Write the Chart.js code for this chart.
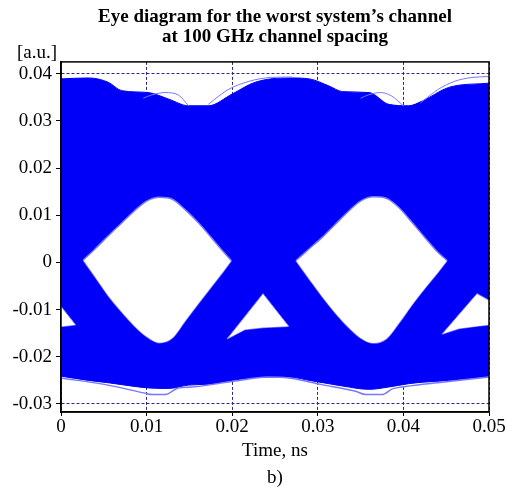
<!DOCTYPE html>
<html>
<head>
<meta charset="utf-8">
<script src="https://cdn.jsdelivr.net/npm/chart.js@4.4.0/dist/chart.umd.min.js"></script>
<style>
  html, body { margin: 0; padding: 0; background: #fff; }
  canvas { display: block; }
</style>
</head>
<body>
<canvas id="eyeChart" width="513" height="490"></canvas>
<script>
// axis ticks
const xTickValues = [0, 0.01, 0.02, 0.03, 0.04, 0.05];
const xTickLabels = ['0', '0.01', '0.02', '0.03', '0.04', '0.05'];
const yTickValues = [-0.03, -0.02, -0.01, 0, 0.01, 0.02, 0.03, 0.04];
const yTickLabels = ['-0.03', '-0.02', '-0.01', '0', '0.01', '0.02', '0.03', '0.04'];

// outer envelope of all traces
const envTime = [0, 0.0032, 0.0055, 0.0071, 0.0102, 0.0126, 0.0149, 0.0172, 0.0200, 0.0227,
                 0.0266, 0.0290, 0.0313, 0.0329, 0.0360, 0.0383, 0.0406, 0.0422, 0.0453, 0.0500];
const envTop = [0.0389, 0.0391, 0.0382, 0.0364, 0.0360, 0.0346, 0.0332, 0.0332, 0.0357, 0.0382,
                0.0391, 0.0389, 0.0374, 0.0362, 0.0360, 0.0335, 0.0332, 0.0342, 0.0371, 0.0380];
const envBottom = [-0.0241, -0.0250, -0.0255, -0.0259, -0.0266, -0.0267, -0.0260, -0.0258, -0.0250, -0.0244,
                   -0.0243, -0.0250, -0.0257, -0.0262, -0.0269, -0.0264, -0.0257, -0.0254, -0.0250, -0.0241];

// stray traces outside the dense band
const lowTraceX = [0, 0.0052, 0.0098, 0.0106, 0.0122, 0.0137, 0.0153, 0.0201, 0.0242,
                   0.0266, 0.0305, 0.0344, 0.0356, 0.0375, 0.0387, 0.0402, 0.0445, 0.0500];
const lowTraceY = [-0.0245, -0.0259, -0.0277, -0.0280, -0.0280, -0.0266, -0.0264, -0.0252, -0.0243,
                   -0.0245, -0.0259, -0.0273, -0.0280, -0.0280, -0.0268, -0.0263, -0.0254, -0.0243];
const arc1X = [0.0096, 0.0106, 0.01215, 0.0137, 0.0149];
const arc1Y = [0.0348, 0.0355, 0.0360, 0.0355, 0.0332];
const arc2X = [0.0350, 0.0359, 0.0373, 0.0386, 0.0400];
const arc2Y = [0.0348, 0.0355, 0.0360, 0.0353, 0.0332];
const fan1X = [0.0172, 0.0195, 0.0220, 0.0245, 0.0270];
const fan1Y = [0.0335, 0.0366, 0.0384, 0.0392, 0.0393];
const fan2X = [0.0420, 0.0440, 0.0460, 0.0480, 0.0500];
const fan2Y = [0.0338, 0.0366, 0.0384, 0.0392, 0.0394];

// eye openings
const eye1X = [0.0026, 0.0040, 0.0055, 0.0070, 0.0085, 0.0100, 0.0115, 0.0130, 0.0145, 0.0160, 0.0175, 0.0190, 0.0199];
const eye1Top = [0.0005, 0.0029, 0.0056, 0.0082, 0.0108, 0.0130, 0.0138, 0.0134, 0.0112, 0.0085, 0.0054, 0.0022, 0.0004];
const eye1Bottom = [0.0005, -0.0031, -0.0070, -0.0103, -0.0133, -0.0157, -0.0170, -0.0160, -0.0124, -0.0088, -0.0053, -0.0018, 0.0004];
const eye2X = [0.02745, 0.0290, 0.0305, 0.0320, 0.0335, 0.0350, 0.0365, 0.0380, 0.0395, 0.0410, 0.0425, 0.0440, 0.0451];
const eye2Top = [0.0004, 0.0029, 0.0053, 0.0080, 0.0107, 0.0130, 0.0139, 0.0136, 0.0116, 0.0085, 0.0053, 0.0022, 0.0004];
const eye2Bottom = [0.0004, -0.0035, -0.0072, -0.0106, -0.0136, -0.0160, -0.0171, -0.0162, -0.0128, -0.0090, -0.0055, -0.0022, 0.0004];

// small gaps under the crossings
const triLeftX = [0, 0.0017];
const triLeftTop = [-0.0093, -0.0132];
const triLeftBottom = [-0.0136, -0.0132];
const triMidX = [0.0194, 0.0215, 0.0236, 0.0266];
const triMidTop = [-0.0162, -0.0114, -0.0066, -0.0135];
const triMidBottom = [-0.0162, -0.0142, -0.0138, -0.0135];
const triRightX = [0.0445, 0.0465, 0.0486, 0.0500];
const triRightTop = [-0.0152, -0.0110, -0.0066, -0.0080];
const triRightBottom = [-0.0152, -0.0140, -0.0135, -0.0132];

const BLUE = 'rgb(0,0,250)';
const EDGE = 'rgb(120,120,255)';
const GRID = 'rgb(40,40,140)';
const SERIF = "'Liberation Serif', 'Times New Roman', serif";

function pts(xs, ys) {
    return xs.map((x, i) => ({ x: x, y: ys[i] }));
}

function line(xs, ys, color, order, extra) {
    return Object.assign({
        data: pts(xs, ys),
        borderColor: color,
        borderWidth: 1,
        pointRadius: 0,
        fill: false,
        cubicInterpolationMode: 'monotone',
        order: order
    }, extra || {});
}

const datasets = [
    line(envTime, envTop, BLUE, 10, { fill: '+1', backgroundColor: BLUE }),
    line(envTime, envBottom, BLUE, 10),
    line(lowTraceX, lowTraceY, EDGE, 9, { borderWidth: 1.5 }),
    line(arc1X, arc1Y, EDGE, 8),
    line(arc2X, arc2Y, EDGE, 8),
    line(fan1X, fan1Y, EDGE, 8),
    line(fan2X, fan2Y, EDGE, 8),
    line(eye1X, eye1Top, EDGE, 2, { fill: '+1', backgroundColor: '#fff', borderWidth: 1.5 }),
    line(eye1X, eye1Bottom, EDGE, 2, { borderWidth: 1.5 }),
    line(eye2X, eye2Top, EDGE, 2, { fill: '+1', backgroundColor: '#fff', borderWidth: 1.5 }),
    line(eye2X, eye2Bottom, EDGE, 2, { borderWidth: 1.5 }),
    line(triLeftX, triLeftTop, EDGE, 2, { fill: '+1', backgroundColor: '#fff', cubicInterpolationMode: 'default' }),
    line(triLeftX, triLeftBottom, EDGE, 2, { borderWidth: 1.5, cubicInterpolationMode: 'default' }),
    line(triMidX, triMidTop, EDGE, 2, { fill: '+1', backgroundColor: '#fff', cubicInterpolationMode: 'default' }),
    line(triMidX, triMidBottom, EDGE, 2, { borderWidth: 1.5, cubicInterpolationMode: 'default' }),
    line(triRightX, triRightTop, EDGE, 2, { fill: '+1', backgroundColor: '#fff', cubicInterpolationMode: 'default' }),
    line(triRightX, triRightBottom, EDGE, 2, { borderWidth: 1.5, cubicInterpolationMode: 'default' })
];

// black frame round the plot plus the unit label
const framePlugin = {
    id: 'frame',
    afterDatasetsDraw(chart) {
        const { ctx, chartArea: a } = chart;
        ctx.save();
        ctx.strokeStyle = '#000';
        ctx.lineWidth = 1.5;
        ctx.strokeRect(a.left, a.top, a.right - a.left, a.bottom - a.top);
        ctx.restore();
    },
    afterDraw(chart) {
        const ctx = chart.ctx;
        ctx.save();
        ctx.font = '19px ' + SERIF;
        ctx.fillStyle = '#000';
        ctx.textAlign = 'right';
        ctx.textBaseline = 'middle';
        ctx.fillText('[a.u.]', 57, 53);
        ctx.restore();
    }
};

new Chart(document.getElementById('eyeChart').getContext('2d'), {
    type: 'line',
    data: { datasets: datasets },
    plugins: [framePlugin],
    options: {
        responsive: false,
        animation: false,
        layout: { padding: { left: 0, right: 24, top: 0, bottom: 0 } },
        plugins: {
            legend: { display: false },
            tooltip: { enabled: false },
            title: {
                display: true,
                fullSize: false,
                text: ['Eye diagram for the worst system\u2019s channel', 'at 100 GHz channel spacing'],
                color: '#000',
                font: { family: SERIF, size: 19, weight: 'bold', lineHeight: 1.05 },
                padding: { top: 7, bottom: 15 }
            }
        },
        scales: {
            x: {
                type: 'linear',
                min: 0,
                max: 0.05,
                afterBuildTicks: s => { s.ticks = xTickValues.map(v => ({ value: v })); },
                afterFit: s => { s.height = 78; },
                ticks: {
                    color: '#000',
                    font: { family: SERIF, size: 19 },
                    padding: 0,
                    maxRotation: 0,
                    callback: (v, i) => xTickLabels[i]
                },
                grid: {
                    color: GRID,
                    tickColor: '#000',
                    tickBorderDash: [],
                    tickLength: 4
                },
                border: { color: '#000', width: 1.5, dash: [3, 2] },
                title: {
                    display: true,
                    text: ['Time, ns', 'b)'],
                    color: '#000',
                    font: { family: SERIF, size: 19, lineHeight: 1.45 },
                    padding: { top: 0, bottom: -2 }
                }
            },
            y: {
                type: 'linear',
                min: -0.0317,
                max: 0.0425,
                afterBuildTicks: s => { s.ticks = yTickValues.map(v => ({ value: v })); },
                afterFit: s => { s.width = 61; },
                ticks: {
                    color: '#000',
                    font: { family: SERIF, size: 19 },
                    padding: 4,
                    callback: (v, i) => yTickLabels[i]
                },
                grid: {
                    color: GRID,
                    tickColor: '#000',
                    tickBorderDash: [],
                    tickLength: 5
                },
                border: { color: '#000', width: 1.5, dash: [3, 2] }
            }
        }
    }
});
</script>
</body>
</html>
